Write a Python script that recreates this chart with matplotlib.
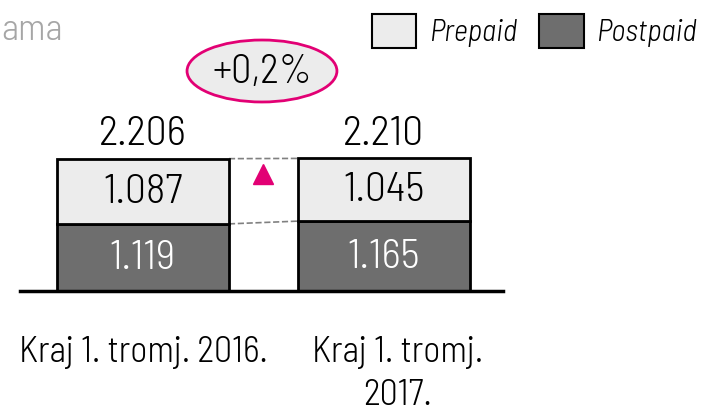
import matplotlib
matplotlib.use('agg')
import matplotlib.pyplot as plt
from matplotlib.patches import Ellipse, Rectangle
import numpy as np

# donnees
categories = ["Kraj 1. tromj. 2016.", "Kraj 1. tromj.\n2017."]
postpaid = [1.119, 1.165]
prepaid = [1.087, 1.045]
totals = ["2.206", "2.210"]
postpaid_lbl = ["1.119", "1.165"]
prepaid_lbl = ["1.087", "1.045"]
change_lbl = "+0,2%"
unit_lbl = "ama"
legend_lbl = ["Prepaid", "Postpaid"]

plt.rcParams['font.family'] = ['Barlow Semi Condensed', 'DejaVu Sans']
plt.rcParams['font.weight'] = 300

W, H = 704, 414
fig = plt.figure(figsize=(W / 100, H / 100), dpi=100)
ax = fig.add_axes([0, 0, 1, 1])
ax.set_xlim(-0.593, 2.328)
ax.set_ylim(-2.033, 4.867)
ax.axis('off')

def px(x, y):
    # pixels (haut gauche) -> fraction de figure
    return x / W, 1 - y / H

x = np.arange(len(categories))
bw = 0.714
post_c = '#6e6e6e'
pre_c = '#ececec'
mag = '#e20074'

ax.bar(x, postpaid, bw, color=post_c, edgecolor='black', linewidth=2, zorder=3)
ax.bar(x, prepaid, bw, bottom=postpaid, color=pre_c, edgecolor='black', linewidth=2, zorder=3)

tot = np.array(postpaid) + np.array(prepaid)
for i in range(len(x)):
    ax.text(x[i], postpaid[i] / 2, postpaid_lbl[i], ha='center', va='center',
            fontsize=30, color='white', zorder=4)
    ax.text(x[i], postpaid[i] + prepaid[i] / 2, prepaid_lbl[i], ha='center', va='center',
            fontsize=30, color='black', zorder=4)
    ax.text(x[i], tot[i] + 0.42, totals[i], ha='center', va='center', fontsize=30)

# lignes pointillees entre les barres
ax.plot([x[0] + bw / 2, x[1] - bw / 2], [tot[0], tot[1]], ls='--', color='#808080', lw=1.2, zorder=2)
ax.plot([x[0] + bw / 2, x[1] - bw / 2], [postpaid[0], postpaid[1]], ls='--', color='#808080', lw=1.2, zorder=2)

# fleche
ax.plot([0.5], [1.95], marker='^', color=mag, markersize=15, zorder=4)

# bulle de variation
e = Ellipse((0.494, 3.667), 0.622, 1.033, facecolor=pre_c, edgecolor=mag, linewidth=2, zorder=3)
ax.add_patch(e)
ax.text(0.494, 3.667, change_lbl, ha='center', va='center', fontsize=29, zorder=4)

# axe de base
ax.plot([-0.51, 1.494], [0, 0], color='black', lw=2.5, zorder=5)

# etiquettes des categories
offs = [0, 0.055]
for i in range(len(x)):
    ax.text(x[i] + offs[i], -0.74, categories[i], ha='center', va='top', fontsize=26,
            linespacing=1.35)

# titre coupe a gauche
fig.text(*px(1, 31), unit_lbl, ha='left', va='center', fontsize=27, color='#a6a6a6')

# legende
for (x0, x1, col, lbl, tx) in [(372, 416, pre_c, legend_lbl[0], 429), (539, 584, post_c, legend_lbl[1], 596)]:
    fx, fy = px(x0, 49)
    fig.patches.append(Rectangle((fx, fy), (x1 - x0) / W, 34 / H, transform=fig.transFigure,
                                 facecolor=col, edgecolor='black', linewidth=1.5))
    fig.text(*px(tx, 33), lbl, ha='left', va='center', fontsize=22, style='italic')

fig.savefig('out.png', dpi=100)
